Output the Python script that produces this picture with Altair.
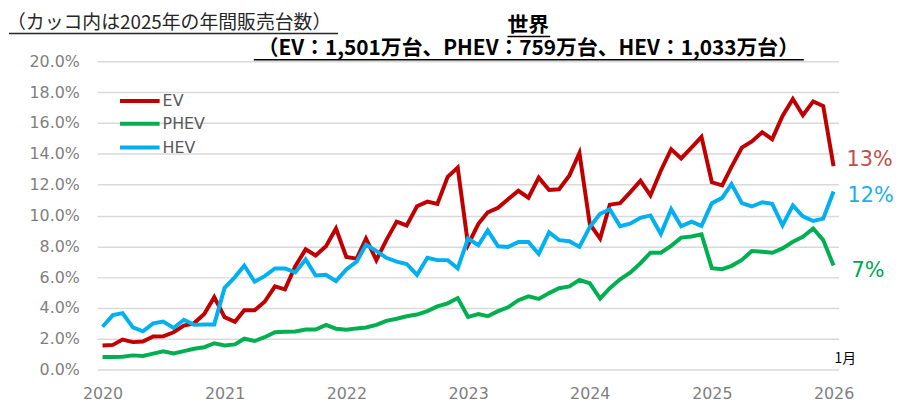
import altair as alt
import pandas as pd

# ---- data ----
months = pd.date_range("2020-01-01", periods=73, freq="MS")
series_names = ["EV", "PHEV", "HEV"]
series_colors = ["#c00000", "#00b050", "#00b0f0"]
label_colors = ["#c0504d", "#00a651", "#1cb0e8"]

ev = [1.56, 1.6, 1.95, 1.78, 1.82, 2.14, 2.16, 2.42, 2.85, 3.0, 3.6, 4.7,
      3.4, 3.1, 3.85, 3.85, 4.4, 5.4, 5.2, 6.7, 7.8, 7.4, 8.0, 9.15,
      7.3, 7.2, 8.5, 7.1, 8.4, 9.6, 9.35, 10.6, 10.9, 10.75, 12.5, 13.1,
      8.1, 9.46, 10.2, 10.5, 11.05, 11.6, 11.15, 12.45, 11.65, 11.7, 12.6, 14.05,
      9.45, 8.5, 10.7, 10.8, 11.5, 12.25, 11.3, 12.9, 14.3, 13.7, 14.4, 15.1,
      12.15, 11.95, 13.15, 14.4, 14.8, 15.4, 14.95, 16.45, 17.55, 16.5, 17.4, 17.1,
      13.2]
phev = [0.81, 0.81, 0.83, 0.92, 0.88, 1.03, 1.18, 1.05, 1.2, 1.35, 1.45, 1.71,
        1.56, 1.63, 2.0, 1.85, 2.1, 2.42, 2.45, 2.47, 2.6, 2.6, 2.9, 2.65,
        2.58, 2.67, 2.73, 2.9, 3.16, 3.3, 3.46, 3.57, 3.79, 4.1, 4.3, 4.64,
        3.42, 3.6, 3.46, 3.79, 4.04, 4.5, 4.75, 4.58, 4.96, 5.28, 5.39, 5.82,
        5.6, 4.6, 5.28, 5.86, 6.29, 6.9, 7.58, 7.58, 8.03, 8.56, 8.63, 8.78,
        6.58, 6.51, 6.73, 7.11, 7.69, 7.65, 7.58, 7.86, 8.29, 8.61, 9.15, 8.4,
        6.75]
hev = [2.78, 3.53, 3.66, 2.74, 2.48, 3.0, 3.12, 2.7, 3.23, 2.9, 2.93, 2.93,
       5.3, 6.0, 6.75, 5.7, 6.06, 6.56, 6.56, 6.3, 7.14, 6.1, 6.15, 5.74,
       6.5, 7.0, 8.1, 7.7, 7.25, 7.0, 6.85, 6.14, 7.25, 7.1, 7.1, 6.57,
       8.5, 8.07, 9.03, 8.0, 7.96, 8.28, 8.28, 7.5, 8.9, 8.4, 8.33, 7.96,
       9.25, 10.1, 10.4, 9.3, 9.46, 9.85, 10.0, 8.8, 10.4, 9.3, 9.6, 9.32,
       10.8, 11.14, 12.04, 10.8, 10.58, 10.86, 10.75, 9.36, 10.65, 9.94, 9.64, 9.79,
       11.55]
y_ticks = [0, 2, 4, 6, 8, 10, 12, 14, 16, 18, 20]
year_ticks = [2020, 2021, 2022, 2023, 2024, 2025, 2026]

note_text = ["（カッコ内は2025年の年間販売台数）"]
title_lines = ["世界", "（EV：1,501万台、PHEV：759万台、HEV：1,033万台）"]
month_tag = ["1月"]

values = {"EV": ev, "PHEV": phev, "HEV": hev}
df = pd.concat(
    [pd.DataFrame({"month": months, "value": values[n], "series": n}) for n in series_names],
    ignore_index=True,
)
last_df = df[df["month"] == months[-1]].reset_index(drop=True)

# ---- scales ----
x_enc = alt.X(
    "month:T",
    scale=alt.Scale(domain=[alt.DateTime(year=2019, month=12, date=16),
                            alt.DateTime(year=2026, month=1, date=16)]),
    axis=alt.Axis(values=[alt.DateTime(year=y, month=1, date=1) for y in year_ticks],
                  tickCount=20,
                  format="%Y", grid=False, domain=False, ticks=False, title=None,
                  labelPadding=16, labelFontSize=16, labelColor="#7f7f7f",
                  labelFont="DejaVu Sans", labelFlush=False, labelOverlap=False),
)
y_enc = alt.Y(
    "value:Q",
    scale=alt.Scale(domain=[0, 20], nice=False),
    axis=alt.Axis(values=y_ticks, tickCount=len(y_ticks) + 1,
                  labelExpr="format(datum.value, '.1f') + '%'",
                  title=None, domain=False, ticks=False, labelPadding=18,
                  labelFontSize=16, labelColor="#7f7f7f", labelFont="DejaVu Sans",
                  labelOverlap=False, labelFlush=False,
                  gridColor="#d9d9d9", gridWidth=1.5),
)
color_scale = alt.Scale(domain=series_names, range=series_colors)

lines = alt.Chart(df).mark_line(strokeWidth=4).encode(
    x=x_enc, y=y_enc,
    color=alt.Color("series:N", scale=color_scale, legend=None),
)

layers = [lines]

# end labels
offsets = {"EV": (13, -6), "PHEV": (18, 6), "HEV": (14, 5)}
for name, lc in zip(series_names, label_colors):
    dx, dy = offsets[name]
    layers.append(
        alt.Chart(last_df).transform_filter(alt.datum.series == name)
        .transform_calculate(lab="format(datum.value, '.0f') + '%'")
        .mark_text(align="left", baseline="middle", fontSize=21, font="DejaVu Sans",
                   color=lc, dx=dx, dy=dy)
        .encode(x=x_enc, y=y_enc, text="lab:N")
    )

# legend (manual)
leg_y = [40, 63, 87]
for name, c, ly in zip(series_names, series_colors, leg_y):
    d = pd.DataFrame({"series": [name]})
    layers.append(alt.Chart(d).mark_rule(strokeWidth=4, color=c).encode(
        x=alt.value(23), x2=alt.value(63), y=alt.value(ly)))
    layers.append(alt.Chart(d).mark_text(align="left", baseline="middle", fontSize=16,
                                         font="DejaVu Sans", color="#595959").encode(
        x=alt.value(66), y=alt.value(ly), text="series:N"))

# titles / notes
note_df = pd.DataFrame({"t": note_text})
layers.append(alt.Chart(note_df).mark_text(align="left", baseline="middle", fontSize=19,
                                           font="Noto Sans CJK JP", color="#262626").encode(
    x=alt.value(-91), y=alt.value(-39), text="t:N"))
layers.append(alt.Chart(note_df).mark_rule(strokeWidth=1.5, color="#262626").encode(
    x=alt.value(-89), x2=alt.value(243), y=alt.value(-28)))

t1 = pd.DataFrame({"t": [title_lines[0]]})
t2 = pd.DataFrame({"t": [title_lines[1]]})
layers.append(alt.Chart(t1).mark_text(align="center", baseline="middle", fontSize=21,
                                      fontWeight="bold", font="Noto Sans CJK JP",
                                      color="black").encode(
    x=alt.value(435), y=alt.value(-36), text="t:N"))
layers.append(alt.Chart(t1).mark_rule(strokeWidth=1.5, color="black").encode(
    x=alt.value(414), x2=alt.value(457), y=alt.value(-25)))
layers.append(alt.Chart(t2).mark_text(align="center", baseline="middle", fontSize=21,
                                      fontWeight="bold", font="Noto Sans CJK JP",
                                      color="black").encode(
    x=alt.value(435), y=alt.value(-12), text="t:N"))
layers.append(alt.Chart(t2).mark_rule(strokeWidth=1.5, color="black").encode(
    x=alt.value(158), x2=alt.value(713), y=alt.value(-1.5)))

mt = pd.DataFrame({"t": month_tag})
layers.append(alt.Chart(mt).mark_text(align="left", baseline="middle", fontSize=14,
                                      font="Noto Sans CJK JP", color="black").encode(
    x=alt.value(744), y=alt.value(300), text="t:N"))

chart = alt.layer(*layers).properties(
    width=748, height=311,
    autosize=alt.AutoSizeParams(type="none"),
    padding={"left": 90, "top": 52, "right": 63, "bottom": 38},
).configure_view(stroke=None)

chart.save("out.html", embed_options={"renderer": "svg", "actions": False})
